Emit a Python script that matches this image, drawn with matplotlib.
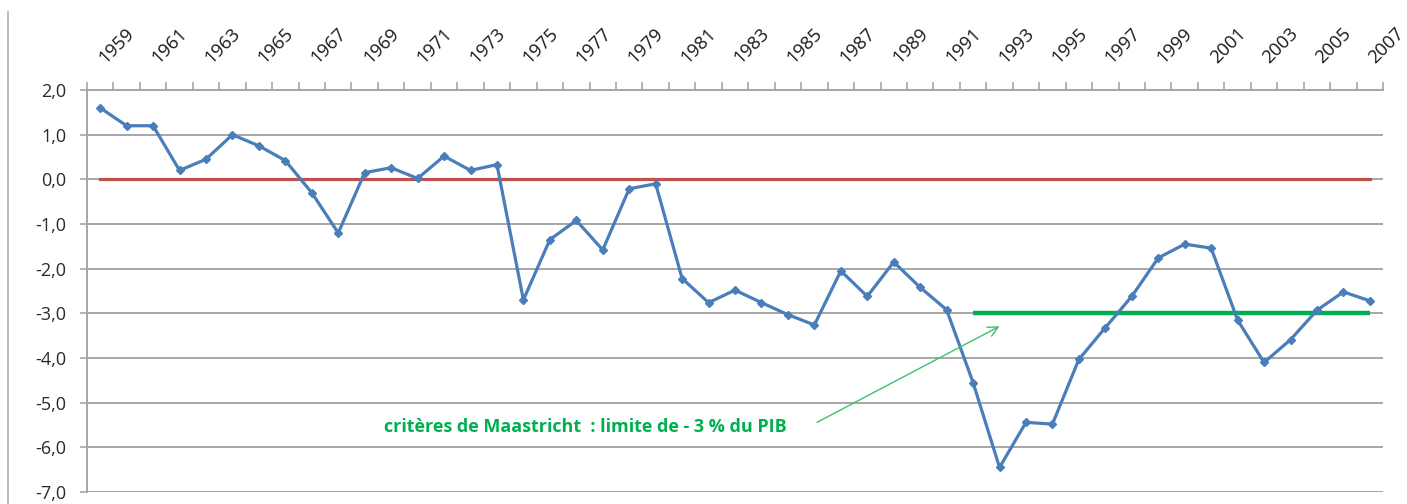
import numpy as np
import matplotlib.pyplot as plt
from matplotlib.lines import Line2D
from matplotlib.ticker import FixedLocator

# solde budgetaire (% du PIB), 1959-2007
years = list(range(1959, 2008))
solde = [1.6, 1.2, 1.2, 0.2, 0.45, 1.0, 0.75, 0.42, -0.3, -1.2,
         0.15, 0.26, 0.02, 0.52, 0.2, 0.33, -2.7, -1.35, -0.92, -1.58,
         -0.21, -0.1, -2.22, -2.76, -2.48, -2.76, -3.03, -3.26, -2.05, -2.62,
         -1.85, -2.42, -2.92, -4.55, -6.45, -5.44, -5.48, -4.03, -3.32, -2.62,
         -1.76, -1.45, -1.54, -3.15, -4.1, -3.59, -2.93, -2.52, -2.72]
zero_line = [0.0] * len(years)
limite_start = 1992
limite = -3.0
yticks = [2, 1, 0, -1, -2, -3, -4, -5, -6, -7]
note = "critères de Maastricht  : limite de - 3 % du PIB"

plt.rcParams['font.family'] = ['Open Sans', 'DejaVu Sans']

fig = plt.figure(figsize=(14.07, 5.04), dpi=100)
ax = fig.add_axes([0.0618, 0.0238, 0.9212, 0.7976])

x = np.arange(len(years))
grid_c = '#a6a6a6'

for yv in yticks:
    ax.axhline(yv, color=grid_c, lw=1.4, zorder=1)

ax.plot(x, zero_line, color='#c0504d', lw=2.3, zorder=2)
i0 = years.index(limite_start)
ax.plot(x[i0:], [limite] * (len(years) - i0), color='#00b050', lw=3.2, zorder=2,
        solid_capstyle='butt')
ax.plot(x, solde, color='#4a7ebb', lw=2.3, marker='D', ms=4, zorder=3)

ax.annotate('', xy=(34.0, -3.29), xytext=(27.1, -5.44),
            arrowprops=dict(arrowstyle='->', color='#3cc36e', lw=1.0,
                            mutation_scale=18, shrinkA=0, shrinkB=0), zorder=4)
ax.text(18.33, -5.55, note, color='#00b050', fontsize=13, fontweight='bold',
        ha='center', va='center', zorder=4)

ax.set_xlim(-0.5, len(years) - 0.5)
ax.set_ylim(-7, 2)

# top axis: tick marks at category edges, labels every other year
ax.xaxis.tick_top()
ax.xaxis.set_major_locator(FixedLocator(np.arange(len(years) + 1) - 0.5))
ax.set_xticklabels([])
ax.tick_params(axis='x', which='major', length=6, color=grid_c, width=1.2,
               top=True, bottom=False, direction='out')
for i in x[::2]:
    ax.annotate(str(years[i]), xy=(i, 1.0), xycoords=('data', 'axes fraction'),
                xytext=(4, 19), textcoords='offset points', rotation=45,
                ha='left', va='baseline', rotation_mode='anchor',
                fontsize=13.2, color='#1a1a1a', annotation_clip=False)

ax.set_yticks(yticks)
ax.set_yticklabels([f"{v:.1f}".replace('.', ',') for v in yticks],
                   fontsize=13, color='#2a2a2a')
ax.tick_params(axis='y', length=5, color=grid_c, width=1.2, pad=10)

for s in ['right', 'bottom']:
    ax.spines[s].set_visible(False)
ax.spines['top'].set_color(grid_c)
ax.spines['top'].set_linewidth(1.4)
ax.spines['left'].set_color(grid_c)
ax.spines['left'].set_linewidth(1.4)

# outer frame edge on the left
fig.add_artist(Line2D([0.0057, 0.0057], [0.0, 0.976], color='#b0b0b0', lw=1.2))

fig.savefig('out.png', dpi=100)
